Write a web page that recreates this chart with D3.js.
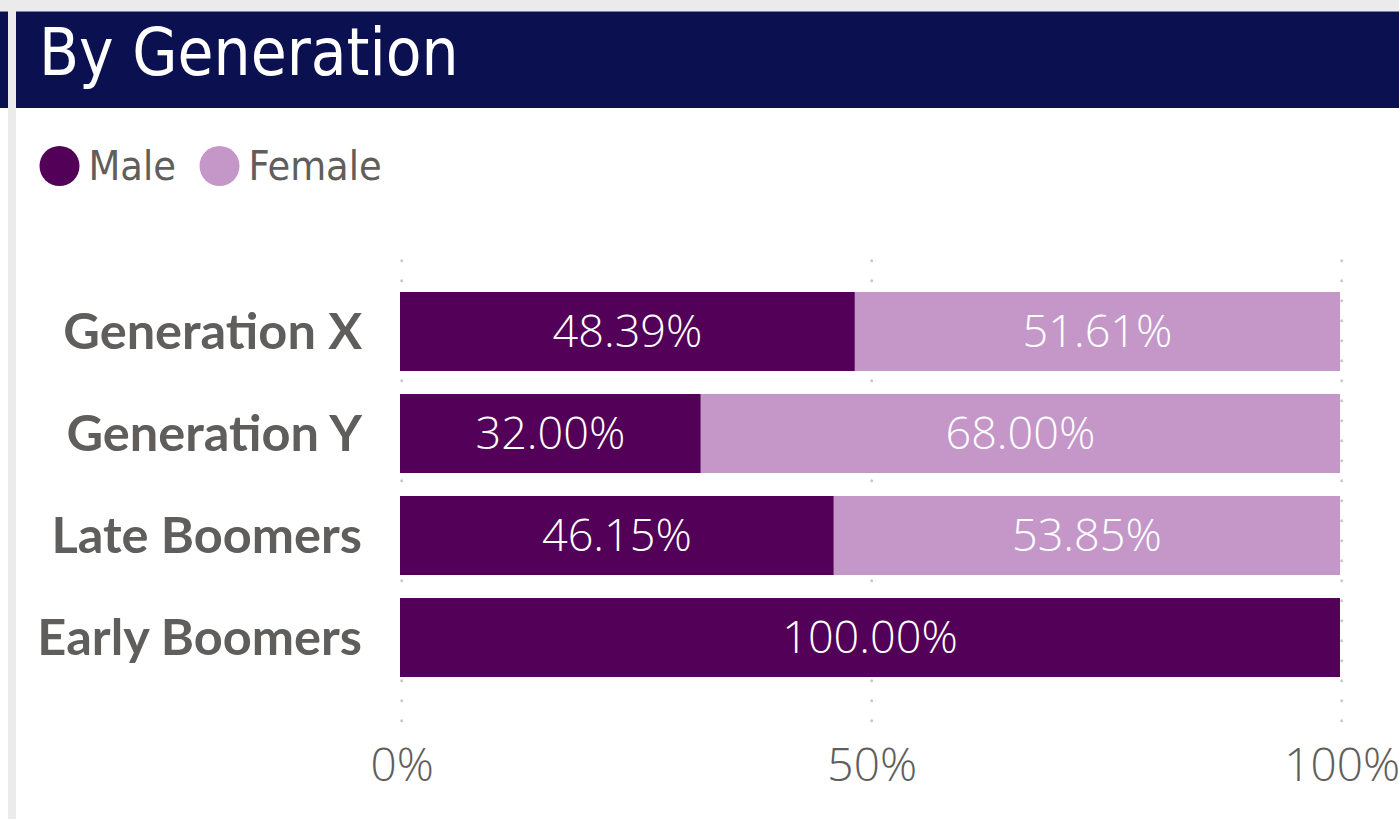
<!DOCTYPE html>
<html>
<head>
<meta charset="utf-8">
<script src="https://cdn.jsdelivr.net/npm/d3@7"></script>
<style>
  html, body { margin: 0; padding: 0; background: #ffffff; overflow: hidden; }
  svg { display: block; }
</style>
</head>
<body>
<svg id="chart" width="1399" height="819"></svg>
<script>
// ---- data ----
const title = "By Generation";
const categories = ["Generation X", "Generation Y", "Late Boomers", "Early Boomers"];
const seriesNames = ["Male", "Female"];
const maleValues = [48.39, 32.00, 46.15, 100.00];
const femaleValues = [51.61, 68.00, 53.85, 0];
const xTickValues = [0, 50, 100];
const xTickLabels = ["0%", "50%", "100%"];

// ---- styles ----
const colors = { Male: "#520058", Female: "#c497c8" };
const navy = "#0b1150";
const frameGray = "#ebebeb";
const textGray = "#605e5c";

const svg = d3.select("#chart");
const W = 1399, H = 819;

// frame
svg.append("rect").attr("x", 0).attr("y", 0).attr("width", W).attr("height", 11.5).attr("fill", frameGray);
svg.append("rect").attr("x", 0).attr("y", 11.5).attr("width", W).attr("height", 96.5).attr("fill", navy);
svg.append("rect").attr("x", 8).attr("y", 0).attr("width", 8).attr("height", H).attr("fill", frameGray);

// title
svg.append("text")
  .attr("x", 39).attr("y", 75)
  .attr("fill", "#ffffff")
  .style("font-family", "'DejaVu Sans Condensed', 'DejaVu Sans', sans-serif")
  .style("font-size", "65px")
  .text(title);

// legend
const legend = svg.append("g").attr("class", "legend");
const legendItems = [
  { name: seriesNames[0], cx: 59.5, tx: 88.5 },
  { name: seriesNames[1], cx: 219.5, tx: 248.5 }
];
legendItems.forEach(d => {
  legend.append("circle").attr("cx", d.cx).attr("cy", 166).attr("r", 20).attr("fill", colors[d.name]);
  legend.append("text").attr("x", d.tx).attr("y", 180)
    .attr("fill", textGray)
    .style("font-family", "'DejaVu Sans Condensed', 'DejaVu Sans', sans-serif")
    .style("font-size", "41px")
    .text(d.name);
});

// scales
const x = d3.scaleLinear().domain([0, 100]).range([400, 1340]);
const y = d3.scaleBand().domain(categories).range([292, 677]).paddingInner(23 / 102).paddingOuter(0);

// gridlines (dotted)
const grid = svg.append("g").attr("class", "grid");
grid.selectAll("line").data(xTickValues).join("line")
  .attr("x1", d => x(d) + 1.7).attr("x2", d => x(d) + 1.7)
  .attr("y1", 260.7).attr("y2", 721)
  .attr("stroke", "#c8c8c8")
  .attr("stroke-width", 3)
  .attr("stroke-linecap", "round")
  .attr("stroke-dasharray", "0 20");

// stacked bars
const table = categories.map((c, i) => ({ cat: c, Male: maleValues[i], Female: femaleValues[i] }));
const stack = d3.stack().keys(seriesNames)(table);

const bars = svg.append("g").attr("class", "bars");
stack.forEach(layer => {
  const g = bars.append("g").attr("fill", colors[layer.key]);
  g.selectAll("rect").data(layer.filter(d => d[1] - d[0] > 0)).join("rect")
    .attr("x", d => x(d[0]))
    .attr("y", d => y(d.data.cat))
    .attr("width", d => x(d[1]) - x(d[0]))
    .attr("height", y.bandwidth());
  const lg = bars.append("g");
  lg.selectAll("text").data(layer.filter(d => d[1] - d[0] > 0)).join("text")
    .attr("x", d => (x(d[0]) + x(d[1])) / 2)
    .attr("y", d => y(d.data.cat) + y.bandwidth() / 2)
    .attr("dy", "0.355em")
    .attr("text-anchor", "middle")
    .attr("fill", "#ffffff")
    .style("font-family", "'Open Sans', sans-serif")
    .style("font-weight", 300)
    .style("font-size", "45px")
    .text(d => (d[1] - d[0]).toFixed(2) + "%");
});

// y axis
const yAxis = svg.append("g").attr("transform", "translate(400,0)")
  .call(d3.axisLeft(y).tickSize(0).tickPadding(38));
yAxis.select(".domain").remove();
yAxis.selectAll("text")
  .attr("dy", "0.35em")
  .attr("fill", textGray)
  .style("font-family", "Lato, 'Open Sans', sans-serif")
  .style("font-weight", 700)
  .style("font-size", "50.5px");

// x axis
const xAxis = svg.append("g").attr("transform", "translate(1.7,0)")
  .call(d3.axisBottom(x).tickValues(xTickValues).tickFormat((d, i) => xTickLabels[i]).tickSize(0));
xAxis.select(".domain").remove();
xAxis.selectAll("text")
  .attr("y", 781).attr("dy", 0)
  .attr("fill", textGray)
  .style("font-family", "'Open Sans', sans-serif")
  .style("font-weight", 300)
  .style("font-size", "46px");
</script>
</body>
</html>
